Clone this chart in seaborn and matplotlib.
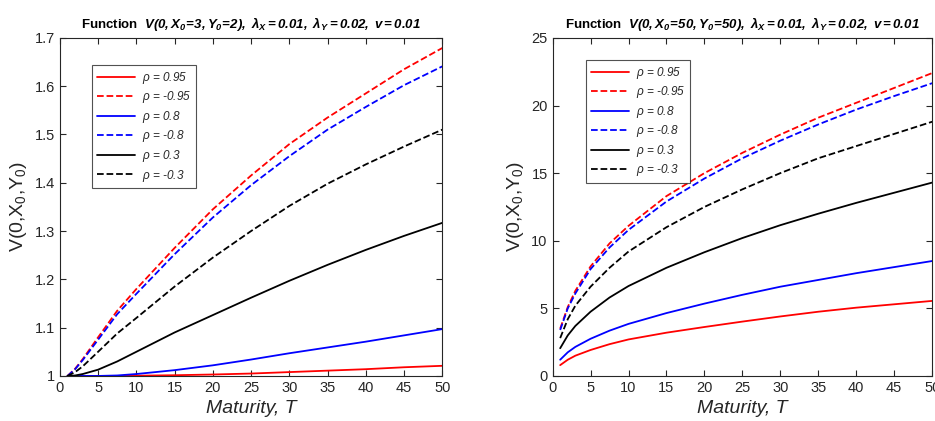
import matplotlib
matplotlib.use("Agg")
import matplotlib.pyplot as plt
import seaborn as sns
import pandas as pd

sns.set_style("ticks")
plt.rcParams['font.family'] = ['Liberation Sans', 'DejaVu Sans']
plt.rcParams['mathtext.fontset'] = 'custom'
plt.rcParams['mathtext.rm'] = 'Liberation Sans'
plt.rcParams['mathtext.it'] = 'Liberation Sans:italic'
plt.rcParams['mathtext.bf'] = 'Liberation Sans:bold'
plt.rcParams['mathtext.bfit'] = 'Liberation Sans:bold:italic'

T = [1, 2, 3, 5, 7.5, 10, 15, 20, 25, 30, 35, 40, 45, 50]

# Left panel: X0=3, Y0=2
left_p095 = [1.0, 1.0, 1.0, 1.0, 1.0, 1.0005, 1.0015, 1.003, 1.005, 1.008, 1.011, 1.014, 1.018, 1.021]
left_m095 = [1.0, 1.015, 1.035, 1.08, 1.135, 1.18, 1.265, 1.345, 1.415, 1.48, 1.535, 1.585, 1.635, 1.679]
left_p08 = [1.0, 1.0, 1.0, 1.0, 1.001, 1.004, 1.012, 1.022, 1.034, 1.047, 1.059, 1.071, 1.084, 1.097]
left_m08 = [1.0, 1.014, 1.033, 1.075, 1.128, 1.17, 1.252, 1.328, 1.395, 1.455, 1.51, 1.557, 1.602, 1.641]
left_p03 = [1.0, 1.001, 1.004, 1.013, 1.03, 1.05, 1.09, 1.126, 1.162, 1.197, 1.23, 1.261, 1.29, 1.317]
left_m03 = [1.0, 1.008, 1.02, 1.05, 1.088, 1.12, 1.185, 1.245, 1.3, 1.352, 1.398, 1.438, 1.475, 1.51]

# Right panel: X0=50, Y0=50
right_p095 = [0.8, 1.2, 1.5, 1.92, 2.35, 2.7, 3.2, 3.62, 4.02, 4.4, 4.75, 5.05, 5.3, 5.55]
right_m095 = [3.5, 5.1, 6.3, 8.1, 9.8, 11.1, 13.3, 15.0, 16.5, 17.85, 19.1, 20.2, 21.3, 22.4]
right_p08 = [1.2, 1.75, 2.15, 2.75, 3.35, 3.85, 4.65, 5.35, 6.0, 6.6, 7.1, 7.6, 8.05, 8.5]
right_m08 = [3.4, 5.0, 6.1, 7.9, 9.5, 10.8, 12.9, 14.6, 16.1, 17.4, 18.6, 19.7, 20.7, 21.65]
right_p03 = [2.05, 3.0, 3.7, 4.75, 5.8, 6.65, 8.0, 9.15, 10.2, 11.15, 12.0, 12.8, 13.55, 14.3]
right_m03 = [2.8, 4.2, 5.2, 6.6, 8.0, 9.2, 11.0, 12.5, 13.8, 15.0, 16.1, 17.0, 17.9, 18.8]

labels = [r"$\rho$ = 0.95", r"$\rho$ = -0.95", r"$\rho$ = 0.8", r"$\rho$ = -0.8",
          r"$\rho$ = 0.3", r"$\rho$ = -0.3"]
colors = ["#ff0000", "#ff0000", "#0000ff", "#0000ff", "#000000", "#000000"]
styles = ["-", "--", "-", "--", "-", "--"]

titles = [r"$\mathbf{Function}$  $\mathbfit{V(0,X_0\!=\!3,Y_0\!=\!2),\ \lambda_X = 0.01,\ \lambda_Y = 0.02,\ v = 0.01}$",
          r"$\mathbf{Function}$  $\mathbfit{V(0,X_0\!=\!50,Y_0\!=\!50),\ \lambda_X = 0.01,\ \lambda_Y = 0.02,\ v = 0.01}$"]

fig = plt.figure(figsize=(9.35, 4.21), dpi=100)
ax1 = fig.add_axes([0.064, 0.107, 0.409, 0.803])
ax2 = fig.add_axes([0.591, 0.107, 0.406, 0.803])

panels = [
    (ax1, [left_p095, left_m095, left_p08, left_m08, left_p03, left_m03], (1, 1.7),
     [1, 1.1, 1.2, 1.3, 1.4, 1.5, 1.6, 1.7], ["1", "1.1", "1.2", "1.3", "1.4", "1.5", "1.6", "1.7"], (0.075, 0.93)),
    (ax2, [right_p095, right_m095, right_p08, right_m08, right_p03, right_m03], (0, 25),
     [0, 5, 10, 15, 20, 25], ["0", "5", "10", "15", "20", "25"], (0.08, 0.945)),
]

for (ax, series, ylim, yt, ytl, lpos), title in zip(panels, titles):
    for vals, lab, c, ls in zip(series, labels, colors, styles):
        df = pd.DataFrame({"T": T, "V": vals})
        sns.lineplot(data=df, x="T", y="V", ax=ax, color=c, linestyle=ls, linewidth=1.3,
                     label=lab, estimator=None, sort=False)
    ax.set_xlim(0, 50)
    ax.set_ylim(*ylim)
    ax.set_xticks(range(0, 51, 5))
    ax.set_yticks(yt)
    ax.set_yticklabels(ytl)
    ax.tick_params(direction="in", top=True, right=True, length=4, width=0.8,
                   labelsize=10.5, labelcolor="#262626", color="#262626")
    for s in ax.spines.values():
        s.set_color("#262626")
        s.set_linewidth(0.8)
    ax.set_xlabel("Maturity, T", fontsize=14, style="italic", color="#262626")
    ax.set_ylabel(r"V(0,X$_0$,Y$_0$)", fontsize=14, color="#262626")
    ax.set_title(title, fontsize=9.5, color="#000000", pad=7)
    leg = ax.legend(loc="upper left", bbox_to_anchor=lpos,
                    prop={"style": "italic", "size": 8.5}, frameon=True, fancybox=False,
                    edgecolor="#262626", handlelength=3.2, labelspacing=0.3,
                    borderpad=0.4, handletextpad=0.6, borderaxespad=0.3)
    leg.get_frame().set_linewidth(0.8)

fig.savefig("out.png", dpi=100)
